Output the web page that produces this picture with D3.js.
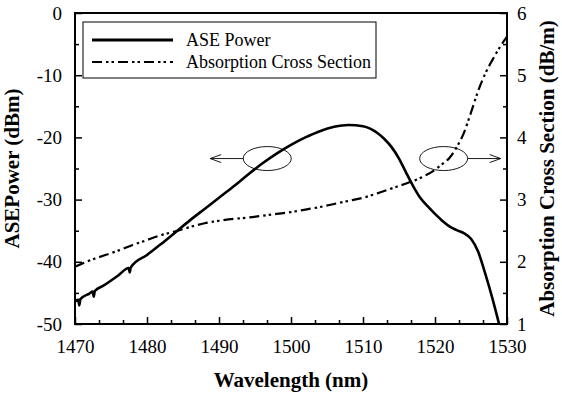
<!DOCTYPE html>
<html>
<head>
<meta charset="utf-8">
<script src="https://cdn.jsdelivr.net/npm/d3@7"></script>
<style>
  body { margin: 0; background: #fff; }
  svg text { font-family: "Times New Roman", Tinos, "Liberation Serif", "DejaVu Serif", "Noto Serif", Times, serif; }
</style>
</head>
<body>
<svg width="562" height="396"></svg>
<script>
// ASE power (dBm) vs wavelength (small noise spikes at the short end)
const aseWl = [1470, 1470.45, 1470.6, 1470.75, 1472, 1472.45, 1472.6, 1472.75, 1474, 1476, 1477.45, 1477.6, 1477.75,
  1480, 1482, 1484, 1486, 1488, 1490, 1492, 1494, 1496, 1498,
  1500, 1502, 1504, 1506, 1508, 1510, 1511, 1512, 1513, 1514, 1515, 1516, 1517, 1518, 1519, 1520,
  1521, 1522, 1523, 1524, 1525, 1526, 1527, 1528, 1528.9];
const asePower = [-46.4, -46.1, -47.0, -46.0, -45.1, -44.8, -45.6, -44.7, -43.8, -42.2, -41.0, -41.7, -40.9,
  -38.9, -37.1, -35.2, -33.3, -31.5, -29.7, -27.9, -26.0, -24.2, -22.6,
  -21.2, -20.0, -19.0, -18.3, -18.0, -18.2, -18.6, -19.3, -20.3, -21.6, -23.4, -25.7, -27.9, -29.8, -31.1, -32.3,
  -33.4, -34.3, -34.9, -35.4, -36.3, -38.4, -42.0, -46.0, -50.0];

// absorption cross section (dB/m)
const absWl = [1470, 1472, 1474, 1476, 1478, 1480, 1482, 1484, 1486, 1488, 1490, 1492, 1494, 1496, 1498,
  1500, 1502, 1504, 1506, 1508, 1510, 1512, 1514, 1516, 1518, 1520, 1521, 1522, 1523, 1524,
  1525, 1526, 1527, 1528, 1529, 1530];
const absCross = [1.92, 2.02, 2.10, 2.18, 2.27, 2.35, 2.43, 2.49, 2.56, 2.62, 2.66, 2.69, 2.71, 2.74, 2.77,
  2.80, 2.84, 2.88, 2.93, 2.98, 3.03, 3.10, 3.18, 3.26, 3.35, 3.48, 3.57, 3.67, 3.84, 4.07,
  4.40, 4.75, 5.03, 5.25, 5.45, 5.62];

const xTicks = [1470, 1480, 1490, 1500, 1510, 1520, 1530];
const yLeftTicks = [0, -10, -20, -30, -40, -50];
const yRightTicks = [1, 2, 3, 4, 5, 6];
const legendLabels = ["ASE Power", "Absorption Cross Section"];

const FONT = '"Times New Roman", Tinos, "Liberation Serif", "DejaVu Serif", "Noto Serif", Times, serif';

const svg = d3.select('svg');
const L = 75, R = 507, T = 13, B = 324;

const x = d3.scaleLinear().domain([1470, 1530]).range([L, R]);
const yL = d3.scaleLinear().domain([-50, 0]).range([B, T]);
const yR = d3.scaleLinear().domain([1, 6]).range([B, T]);

// minor ticks
const xMinor = d3.range(0, 19).map(i => 1470 + i * 10 / 3).filter((v, i) => i % 3 !== 0);
const yLMinor = d3.range(-45, 0, 10);
const yRMinor = d3.range(1.5, 6, 1);

svg.append('defs').append('clipPath').attr('id', 'clip')
  .append('rect').attr('x', L).attr('y', T).attr('width', R - L).attr('height', B - T);

function styleAxis(g) {
  g.attr('font-family', null);
  g.select('.domain').remove();
  g.selectAll('.tick line').attr('stroke', '#000').attr('stroke-width', 1.5);
  g.selectAll('.tick text').attr('fill', '#000')
    .style('font-size', '19px').style('font-family', FONT);
}

const fmt = d => String(d);

// x axis (ticks inward)
svg.append('g').attr('transform', `translate(0,${B})`)
  .call(d3.axisBottom(x).tickValues(xTicks).tickSize(-7).tickPadding(16).tickFormat(fmt))
  .call(styleAxis);
svg.append('g').attr('transform', `translate(0,${B})`)
  .call(d3.axisBottom(x).tickValues(xMinor).tickSize(-4).tickFormat(''))
  .call(styleAxis);

// left axis
svg.append('g').attr('transform', `translate(${L},0)`)
  .call(d3.axisLeft(yL).tickValues(yLeftTicks).tickSize(-7).tickPadding(13).tickFormat(fmt))
  .call(styleAxis);
svg.append('g').attr('transform', `translate(${L},0)`)
  .call(d3.axisLeft(yL).tickValues(yLMinor).tickSize(-4).tickFormat(''))
  .call(styleAxis);

// right axis
svg.append('g').attr('transform', `translate(${R},0)`)
  .call(d3.axisRight(yR).tickValues(yRightTicks).tickSize(-7).tickPadding(10).tickFormat(fmt))
  .call(styleAxis);
svg.append('g').attr('transform', `translate(${R},0)`)
  .call(d3.axisRight(yR).tickValues(yRMinor).tickSize(-4).tickFormat(''))
  .call(styleAxis);

// frame
svg.append('rect')
  .attr('x', L).attr('y', T).attr('width', R - L).attr('height', B - T)
  .attr('fill', 'none').attr('stroke', '#000').attr('stroke-width', 2);

const plot = svg.append('g').attr('clip-path', 'url(#clip)');

const aseLine = d3.line().curve(d3.curveMonotoneX)
  .x((d, i) => x(aseWl[i])).y(d => yL(d));
const absLine = d3.line().curve(d3.curveMonotoneX)
  .x((d, i) => x(absWl[i])).y(d => yR(d));

const dashPat = '10,4,2.5,3,2.5,4';

plot.append('path').datum(absCross)
  .attr('d', absLine)
  .attr('fill', 'none').attr('stroke', '#000').attr('stroke-width', 2.2)
  .attr('stroke-dasharray', dashPat);

plot.append('path').datum(asePower)
  .attr('d', aseLine)
  .attr('fill', 'none').attr('stroke', '#000').attr('stroke-width', 2.6)
  .attr('stroke-linejoin', 'round');

// ellipse + arrow annotations
const ellipses = [
  { wl: 1496.7, v: -23.4, dir: -1 },
  { wl: 1521.2, v: -23.4, dir: 1 }
];
ellipses.forEach(e => {
  const cx = x(e.wl), cy = yL(e.v);
  svg.append('ellipse').attr('cx', cx).attr('cy', cy).attr('rx', 24).attr('ry', 12)
    .attr('fill', 'none').attr('stroke', '#000').attr('stroke-width', 0.9);
  const x0 = cx + e.dir * 24, x1 = cx + e.dir * 57;
  svg.append('line').attr('x1', x0).attr('y1', cy).attr('x2', x1).attr('y2', cy)
    .attr('stroke', '#000').attr('stroke-width', 0.9);
  svg.append('path')
    .attr('d', `M${x1 - e.dir * 11},${cy - 4}L${x1},${cy}L${x1 - e.dir * 11},${cy + 4}`)
    .attr('fill', 'none').attr('stroke', '#000').attr('stroke-width', 0.9);
});

// legend
const lg = svg.append('g');
lg.append('rect').attr('x', 83).attr('y', 22).attr('width', 293).attr('height', 56)
  .attr('fill', '#fff').attr('stroke', '#000').attr('stroke-width', 1);
legendLabels.forEach((lab, i) => {
  const yy = 40 + i * 22;
  lg.append('line').attr('x1', 92).attr('x2', 173).attr('y1', yy).attr('y2', yy)
    .attr('stroke', '#000').attr('stroke-width', i === 0 ? 2.8 : 2.2)
    .attr('stroke-dasharray', i === 0 ? null : dashPat);
  lg.append('text').attr('x', 186).attr('y', yy + 6).text(lab)
    .style('font-size', '18px').attr('fill', '#000');
});

// axis titles
svg.append('text').attr('x', (L + R) / 2).attr('y', 387)
  .attr('text-anchor', 'middle').style('font-size', '21px').style('font-weight', 'bold')
  .text('Wavelength (nm)');
svg.append('text').attr('transform', `translate(19,${(T + B) / 2}) rotate(-90)`)
  .attr('text-anchor', 'middle').style('font-size', '21px').style('font-weight', 'bold')
  .text('ASEPower (dBm)');
svg.append('text').attr('transform', `translate(554,${(T + B) / 2}) rotate(-90)`)
  .attr('text-anchor', 'middle').style('font-size', '21px').style('font-weight', 'bold')
  .text('Absorption Cross Section (dB/m)');
</script>
</body>
</html>
